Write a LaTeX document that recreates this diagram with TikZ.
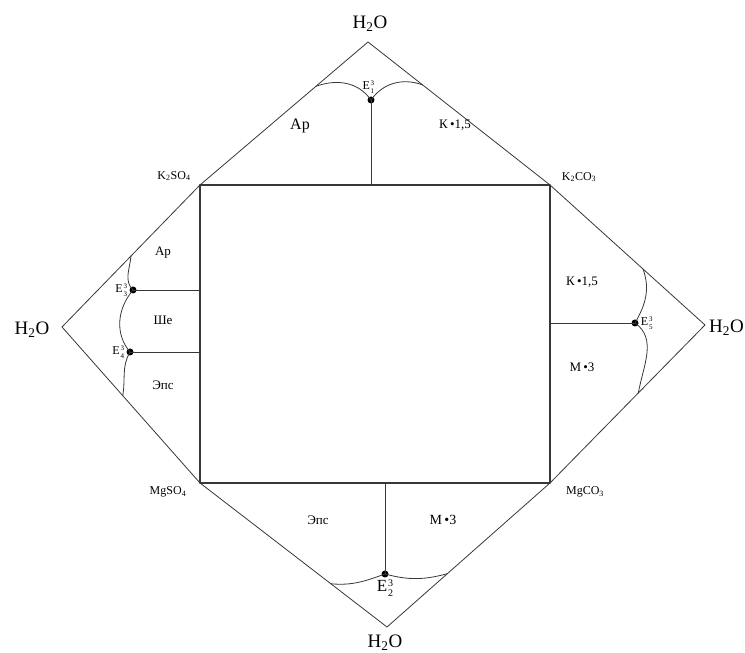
\documentclass[tikz,border=0pt]{standalone}
\usepackage{fontspec}
\setmainfont{Liberation Serif}
\usepackage{tikz}
\usetikzlibrary{calc,positioning}
\definecolor{inkgray}{RGB}{55,55,55}
\newcommand{\water}{H\textsubscript{2}O}
% E with the upper index 3 and the point number stacked to its right.
\newcommand{\eutpt}[2][7]{E\kern.8pt\raisebox{-.7ex}{%
  \fontsize{#1}{1.45\dimexpr#1pt\relax}\selectfont\shortstack[l]{3\\#2}}}
\tikzset{
  rim/.style={draw=inkgray, line width=.8pt},
  inner square/.style={draw=inkgray, line width=1.1pt},
  tie/.style={draw=inkgray, line width=.8pt},
  eutdot/.style={circle, fill=black, inner sep=0pt, minimum size=7pt},
  waterlbl/.style={font=\fontsize{19}{21}\selectfont, inner sep=1pt},
  saltlbl/.style={font=\fontsize{12}{14}\selectfont, inner sep=1pt},
  fieldlbl/.style={font=\fontsize{13}{15}\selectfont, inner sep=1pt},
  eutlbl/.style={font=\fontsize{12}{14}\selectfont, inner sep=0pt}
}

\begin{document}
\begin{tikzpicture}[x=1pt, y=1pt, line cap=round, line join=round]
  \useasboundingbox (0,0) rectangle (745,653);

  % Salt corners of the square and the four water apices.
  \coordinate (KS) at (200,468);
  \coordinate (KC) at (550,468);
  \coordinate (MC) at (550,170);
  \coordinate (MS) at (200,170);
  \coordinate (top) at (368,611);
  \coordinate (left) at (62,326);
  \coordinate (right) at (705,328);
  \coordinate (bot) at (387,26);

  \draw[rim] (top) -- (KC) -- (right) -- (MC) -- (bot) -- (MS) -- (left)
    -- (KS) -- cycle;
  \draw[inner square] (KS) rectangle (MC);

  % Ternary eutonic points on the unfolded faces.
  \node[eutdot] (E1) at (371,553) {};
  \node[eutdot] (E2) at (385,79) {};
  \node[eutdot] (E3) at (133,363) {};
  \node[eutdot] (E4) at (130,301) {};
  \node[eutdot] (E5) at (635,330) {};

  % Lines from the eutonic points to the square.
  \draw[tie] (E1.center) -- (E1 |- KS);
  \draw[tie] (E2.center) -- (E2 |- MS);
  \draw[tie] (E3.center) -- (E3 -| KS);
  \draw[tie] (E4.center) -- (E4 -| KS);
  \draw[tie] (E5.center) -- (E5 -| KC);

  % Solubility curves, ending on the outer edges.
  \draw[tie] ($(top)!.31!(KS)$) to[out=20,in=125] (E1.center);
  \draw[tie] (E1.center) to[out=55,in=160] ($(top)!.30!(KC)$);
  \draw[tie] ($(MS)!.70!(bot)$) to[out=-5,in=200] (E2.center);
  \draw[tie] (E2.center) to[out=-15,in=195] ($(bot)!.37!(MC)$);
  \draw[tie] ($(KS)!.50!(left)$) to[out=-95,in=135] (E3.center);
  \draw[tie] (E3.center) to[out=230,in=130] (E4.center);
  \draw[tie] (E4.center) to[out=-120,in=80] ($(left)!.44!(MS)$);
  \draw[tie] ($(KC)!.60!(right)$) to[out=-70,in=60] (E5.center);
  \draw[tie] (E5.center) to[out=-35,in=80] ($(right)!.43!(MC)$);

  % Water apices.
  \node[waterlbl] (wtop) at (370,629) {\water};
  \node[waterlbl] (wleft) at (32,323) {\water};
  \node[waterlbl, anchor=west] (wright) at (708,325) {\water};
  \node[waterlbl] (wbot) at (385,10) {\water};

  % Salts at the corners.
  \node[saltlbl] (lKS) at (174,477) {K\textsubscript{2}SO\textsubscript{4}};
  \node[saltlbl] (lKC) at (579,476) {K\textsubscript{2}CO\textsubscript{3}};
  \node[saltlbl] (lMS) at (168,161) {MgSO\textsubscript{4}};
  \node[saltlbl] (lMC) at (585,161) {MgCO\textsubscript{3}};

  % Eutonic point labels.
  \node[eutlbl, above left=4pt and -6pt of E1] (lE1) {\eutpt{1}};
  \node[eutlbl, font=\fontsize{17}{19}\selectfont, below=2pt of E2] (lE2)
    {\eutpt[10]{2}};
  \node[eutlbl, left=2pt of E3] (lE3) {\eutpt{3}};
  \node[eutlbl, left=2pt of E4] (lE4) {\eutpt{4}};
  \node[eutlbl, right=2pt of E5] (lE5) {\eutpt{5}};

  % Crystallisation fields.
  \node[fieldlbl, font=\fontsize{16}{18}\selectfont] (ar1) at (300,527) {Ар};
  \node[fieldlbl] (k1) at (455,528) {К\,•1,5};
  \node[fieldlbl] (ar2) at (163,400) {Ар};
  \node[fieldlbl] (she) at (163,333) {Ше};
  \node[fieldlbl] (eps1) at (163,268) {Эпс};
  \node[fieldlbl] (k2) at (582,371) {К\,•1,5};
  \node[fieldlbl] (m1) at (582,286) {М\,•3};
  \node[fieldlbl] (eps2) at (318,133) {Эпс};
  \node[fieldlbl, font=\fontsize{14}{16}\selectfont] (m2) at (443,133) {М\,•3};
\end{tikzpicture}
\end{document}
